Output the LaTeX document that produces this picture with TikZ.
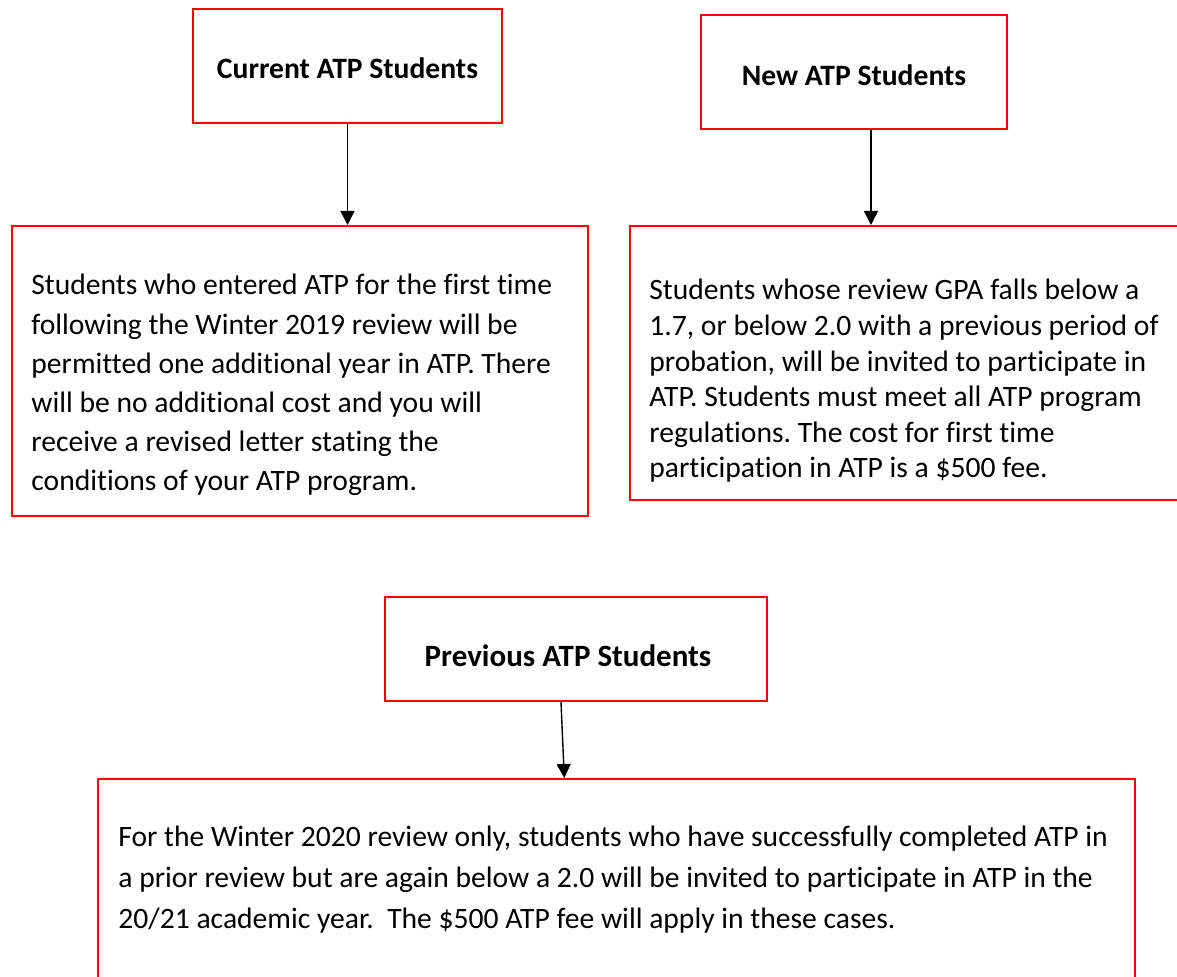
\documentclass[tikz,border=0pt]{standalone}
\usepackage{fontspec}
\setmainfont{Carlito}[Ligatures=NoCommon]
\definecolor{atpred}{RGB}{255,0,0}
\usetikzlibrary{arrows.meta}
\frenchspacing

\begin{document}
\begin{tikzpicture}[x=0.5pt,y=-0.5pt]
  % page frame, 1177 x 977
  \path[use as bounding box] (0,0) rectangle (1177,977);
  \clip (0,0) rectangle (1177,977);

	 \tikzstyle{headbox}=[draw=atpred,line width=1.1pt,rectangle,inner sep=0pt,text depth=0pt,font={\fontsize{14.8}{17}\selectfont\bfseries}]
	 \tikzstyle{bodybox}=[draw=atpred,line width=0.8pt,rectangle,inner sep=0pt,anchor=north west]
	 \tikzstyle{bodytext}=[inner sep=0pt,anchor=north west,align=left]
	 \tikzstyle{edge}=[draw,line width=0.7pt,black,-{Triangle[length=7pt,width=7pt]}]

	 \node[headbox,text height=13pt,minimum width=154.5pt,minimum height=57pt] (cur) at (347.5,66) {Current ATP Students};
	 \node[headbox,text height=14pt,minimum width=153pt,minimum height=57pt] (new) at (854,72) {New ATP Students};
	 \node[headbox,text height=18pt,minimum width=191pt,minimum height=52pt,font={\fontsize{15.5}{18}\selectfont\bfseries}] (prev) at (576,649) {Previous ATP Students\hspace*{8pt}};

	 \node[bodybox,minimum width=288pt,minimum height=145pt] (curbody) at (11,225) {};
	 \node[bodybox,minimum width=286pt,minimum height=137pt] (newbody) at (629,225) {};
	 \node[bodybox,minimum width=518.5pt,minimum height=116pt] (prevbody) at (97,778) {};

	 \node[bodytext,font={\fontsize{14.8}{19.6}\selectfont}] (curtxt) at (31,274) {Students who entered ATP for the first time\\
	   following the Winter 2019 review will be\\
	   permitted one additional year in ATP. There\\
	   will be no additional cost and you will\\
	   receive a revised letter stating the\\
	   conditions of your ATP program.};
	 \node[bodytext,font={\fontsize{14.8}{17.8}\selectfont}] (newtxt) at (649,279) {Students whose review GPA falls below a\\
	   1.7, or below 2.0 with a previous period of\\
	   probation, will be invited to participate in\\
	   ATP. Students must meet all ATP program\\
	   regulations. The cost for first time\\
	   participation in ATP is a \$500 fee.};
	 \node[bodytext,font={\fontsize{14.8}{20.5}\selectfont}] (prevtxt) at (118,826) {For the Winter 2020 review only, students who have successfully completed ATP in\\
	   a prior review but are again below a 2.0 will be invited to participate in ATP in the\\
	   20/21 academic year.\ \ The \$500 ATP fee will apply in these cases.};

	 \draw[edge] (cur.south) -- (cur.south |- curbody.north);
	 \draw[edge] ([xshift=8.5pt]new.south) -- ([xshift=8.5pt]new.south |- newbody.north);
	 \draw[edge] ([xshift=-7.5pt]prev.south) -- ([xshift=-26pt]prevbody.north);
\end{tikzpicture}
\end{document}
